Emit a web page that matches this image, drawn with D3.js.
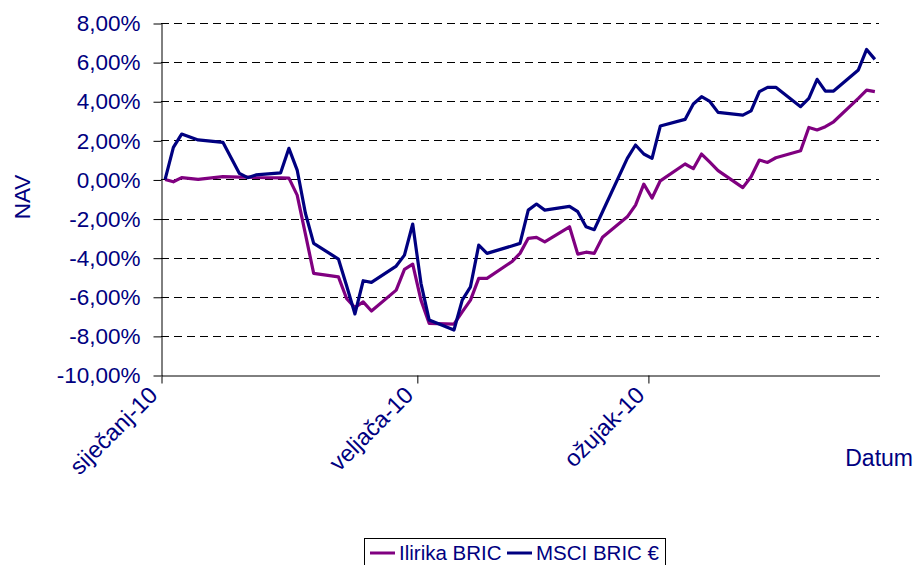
<!DOCTYPE html>
<html>
<head>
<meta charset="utf-8">
<script src="https://cdn.jsdelivr.net/npm/d3@7"></script>
<style>
  body { margin: 0; background: #fff; }
  text { font-family: 'Liberation Sans', Arial, sans-serif; fill: #000080; }
</style>
</head>
<body>
<div id="chart"></div>
<script>
var dates = [
  '2010-01-01', '2010-01-02', '2010-01-03', '2010-01-05', '2010-01-08', '2010-01-10', '2010-01-11',
  '2010-01-12', '2010-01-15', '2010-01-16', '2010-01-17', '2010-01-18', '2010-01-19', '2010-01-22',
  '2010-01-23', '2010-01-24', '2010-01-25', '2010-01-26', '2010-01-29', '2010-01-30', '2010-01-31',
  '2010-02-01', '2010-02-02', '2010-02-05', '2010-02-06', '2010-02-07', '2010-02-08', '2010-02-09',
  '2010-02-12', '2010-02-13', '2010-02-14', '2010-02-15', '2010-02-16', '2010-02-19', '2010-02-20',
  '2010-02-21', '2010-02-22', '2010-02-23', '2010-02-26', '2010-02-27', '2010-02-28',
  '2010-03-01', '2010-03-02', '2010-03-05', '2010-03-06', '2010-03-07', '2010-03-08', '2010-03-09',
  '2010-03-12', '2010-03-13', '2010-03-14', '2010-03-15', '2010-03-16', '2010-03-19', '2010-03-20',
  '2010-03-21', '2010-03-22', '2010-03-23', '2010-03-26', '2010-03-27', '2010-03-28'
];

var ilirika = [
  0.00, -0.12, 0.09, 0.00, 0.14, 0.12, 0.12,
  0.10, 0.08, 0.07, -0.80, -2.80, -4.80, -4.98,
  -6.10, -6.55, -6.26, -6.73, -5.66, -4.60, -4.33,
  -6.17, -7.36, -7.40, -6.77, -6.17, -5.06, -5.06,
  -4.21, -3.78, -3.01, -2.96, -3.19, -2.42, -3.82,
  -3.72, -3.78, -2.96, -1.91, -1.31, -0.24,
  -0.95, -0.07, 0.79, 0.55, 1.30, 0.88, 0.45,
  -0.42, 0.14, 0.99, 0.87, 1.11, 1.47, 2.66,
  2.53, 2.70, 2.95, 4.15, 4.57, 4.49
];

var msci = [
  0.00, 1.64, 2.32, 2.02, 1.90, 0.31, 0.09,
  0.23, 0.34, 1.59, 0.48, -1.73, -3.27, -4.07,
  -5.45, -6.88, -5.18, -5.26, -4.43, -3.87, -2.28,
  -5.31, -7.19, -7.70, -6.17, -5.49, -3.36, -3.78,
  -3.40, -3.27, -1.57, -1.26, -1.57, -1.38, -1.65,
  -2.42, -2.57, -1.65, 1.08, 1.76, 1.30,
  1.08, 2.73, 3.07, 3.86, 4.23, 3.99, 3.43,
  3.29, 3.51, 4.49, 4.71, 4.71, 3.72, 4.15,
  5.12, 4.52, 4.52, 5.60, 6.65, 6.14
];

var seriesNames = ['Ilirika BRIC', 'MSCI BRIC €'];
var seriesColors = ['#800080', '#000080'];
var monthNames = ['siječanj', 'veljača', 'ožujak'];
var yTicks = [-10, -8, -6, -4, -2, 0, 2, 4, 6, 8];

var parseDate = d3.timeParse('%Y-%m-%d');
var days = dates.map(parseDate);

// Create SVG Element
var chart_width = 915;
var chart_height = 565;
var margin = { left: 161, right: 879, top: 23, bottom: 375 };

var svg = d3.select('#chart')
  .append('svg')
  .attr('width', chart_width)
  .attr('height', chart_height);

// Create scales
const xScale = d3.scaleTime()
  .domain([parseDate('2010-01-01'), parseDate('2010-03-29')])
  .range([margin.left, margin.right]);

const yScale = d3.scaleLinear()
  .domain([-10, 8])
  .range([margin.bottom, margin.top]);

// points sit in the middle of their day
const xPos = d => xScale(d3.timeHour.offset(d, 12));

// Gridlines
svg.append('g')
  .selectAll('line')
  .data(yTicks.filter(t => t > -10))
  .enter()
  .append('line')
  .attr('x1', margin.left)
  .attr('x2', margin.right)
  .attr('y1', d => Math.round(yScale(d)) + 0.5)
  .attr('y2', d => Math.round(yScale(d)) + 0.5)
  .attr('stroke', '#000')
  .attr('stroke-dasharray', '8,5');

// Y axis
const yAxis = d3.axisLeft(yScale)
  .tickValues(yTicks)
  .tickSize(8)
  .tickSizeOuter(0)
  .tickPadding(13)
  .tickFormat(d => d.toFixed(2).replace('.', ',') + '%');

svg.append('g')
  .attr('transform', 'translate(' + (margin.left + 0.5) + ',0.5)')
  .call(yAxis)
  .call(g => g.selectAll('text').attr('font-size', 22.5).attr('fill', '#000080'));

// X axis
const monthStarts = d3.timeMonth.range(parseDate('2010-01-01'), parseDate('2010-03-29'));
const xAxis = d3.axisBottom(xScale)
  .tickValues(monthStarts)
  .tickSize(8)
  .tickSizeOuter(0)
  .tickFormat(d => monthNames[d.getMonth()] + '-' + d3.timeFormat('%y')(d));

svg.append('g')
  .attr('transform', 'translate(0.5,' + (margin.bottom + 0.5) + ')')
  .call(xAxis)
  .call(g => g.selectAll('text')
    .attr('font-size', 23.5)
    .attr('fill', '#000080')
    .attr('x', 0)
    .attr('y', 0)
    .attr('dy', 0)
    .attr('text-anchor', 'end')
    .attr('transform', 'translate(-3,21) rotate(-45)'));

// Axis titles
svg.append('text')
  .attr('transform', 'translate(30,197) rotate(-90)')
  .attr('text-anchor', 'middle')
  .attr('font-size', 22.5)
  .text('NAV');

svg.append('text')
  .attr('x', 913)
  .attr('y', 466)
  .attr('text-anchor', 'end')
  .attr('font-size', 23)
  .text('Datum');

// Lines
const line = d3.line()
  .x((d, i) => xPos(days[i]))
  .y(d => yScale(d));

[ilirika, msci].forEach((values, k) => {
  svg.append('path')
    .datum(values)
    .attr('d', line)
    .attr('fill', 'none')
    .attr('stroke', seriesColors[k])
    .attr('stroke-width', 3.2)
    .attr('stroke-linejoin', 'round');
});

// Legend
const legend = svg.append('g');
legend.append('rect')
  .attr('x', 364.5)
  .attr('y', 538.5)
  .attr('width', 301)
  .attr('height', 30)
  .attr('fill', '#fff')
  .attr('stroke', '#000');

const legendX = [370, 507];
seriesNames.forEach((name, k) => {
  legend.append('line')
    .attr('x1', legendX[k])
    .attr('x2', legendX[k] + 25)
    .attr('y1', 553)
    .attr('y2', 553)
    .attr('stroke', seriesColors[k])
    .attr('stroke-width', 3);
  legend.append('text')
    .attr('x', legendX[k] + 29)
    .attr('y', 560)
    .attr('font-size', 20.5)
    .attr('fill', '#000')
    .text(name);
});
</script>
</body>
</html>
